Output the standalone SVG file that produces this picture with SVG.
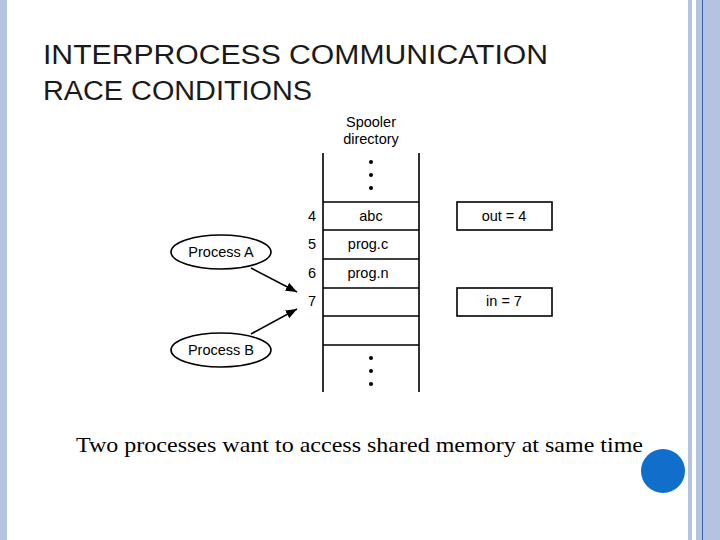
<svg xmlns="http://www.w3.org/2000/svg" width="720" height="540" viewBox="0 0 720 540">
<style>
.t{font-family:"Liberation Sans",Arial,sans-serif;font-size:14.5px;fill:#000;text-anchor:middle}
.h{font-family:"Liberation Sans",Arial,sans-serif;font-size:27px;fill:#1a1a1a}
.ln{stroke:#000;stroke-width:1.6;fill:none}
</style>
<defs><marker id="ar" viewBox="0 0 10 10" refX="10" refY="5" markerWidth="7" markerHeight="7" orient="auto"><path d="M0,1 L10,5 L0,9 z" fill="#000"/></marker></defs>
<rect width="720" height="540" fill="#fff"/>
<rect x="0" y="0" width="7" height="540" fill="#b4c4e0"/>
<rect x="688" y="0" width="4" height="540" fill="#b4c4e0"/>
<rect x="696" y="0" width="24" height="540" fill="#b4c4e0"/>
<rect x="702" y="0" width="1" height="540" fill="#3a64b0"/>
<circle cx="663" cy="471" r="22" fill="#116ecb"/>
<text class="h" x="43" y="64" textLength="505" lengthAdjust="spacingAndGlyphs">INTERPROCESS COMMUNICATION</text>
<text class="h" x="43" y="100" textLength="269" lengthAdjust="spacingAndGlyphs">RACE CONDITIONS</text>
<g id="spooler">
<text class="t" x="371" y="127">Spooler</text>
<text class="t" x="371" y="144">directory</text>
<path class="ln" d="M323,153V392M419,153V392M323,202H419M323,230H419M323,259H419M323,288H419M323,316H419M323,345H419"/>
<g fill="#000"><circle cx="371" cy="162" r="2"/><circle cx="371" cy="175" r="2"/><circle cx="371" cy="188" r="2"/><circle cx="371" cy="358" r="2"/><circle cx="371" cy="371" r="2"/><circle cx="371" cy="384" r="2"/></g>
<text class="t" x="371" y="221">abc</text>
<text class="t" x="368" y="249">prog.c</text>
<text class="t" x="368" y="278">prog.n</text>
<text class="t" x="312" y="221">4</text>
<text class="t" x="312" y="249">5</text>
<text class="t" x="312" y="278">6</text>
<text class="t" x="312" y="306">7</text>
</g>
<g id="out"><rect class="ln" x="457" y="202" width="95" height="28"/><text class="t" x="504" y="221">out = 4</text></g>
<g id="in"><rect class="ln" x="457" y="288" width="95" height="28"/><text class="t" x="504" y="306">in = 7</text></g>
<g id="procA"><ellipse class="ln" cx="221" cy="252" rx="50" ry="17"/><text class="t" x="221" y="257">Process A</text></g>
<g id="procB"><ellipse class="ln" cx="221" cy="350" rx="50" ry="17"/><text class="t" x="221" y="355">Process B</text></g>
<g id="connectors">
<line class="ln" x1="251" y1="268" x2="297" y2="292" marker-end="url(#ar)"/>
<line class="ln" x1="251" y1="334" x2="297" y2="309" marker-end="url(#ar)"/>
</g>
<text x="76" y="452" font-family="Liberation Serif,serif" font-size="21" textLength="567" lengthAdjust="spacingAndGlyphs">Two processes want to access shared memory at same time</text>
</svg>
